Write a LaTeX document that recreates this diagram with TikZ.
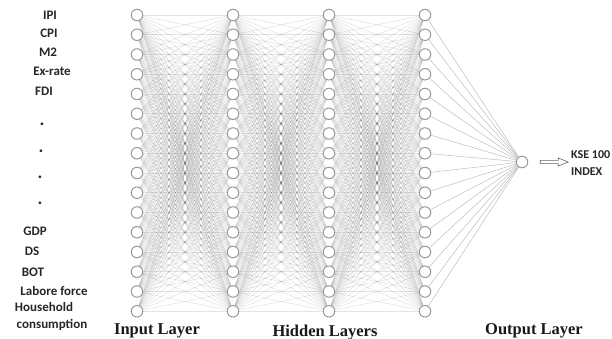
\documentclass[tikz,border=0pt]{standalone}
\usepackage{fontspec}
\setmainfont{Liberation Serif}
\newfontfamily\labelfont{Carlito}
\usetikzlibrary{calc,backgrounds}

\begin{document}
\begin{tikzpicture}[x=1pt,y=-1pt,
  neuron/.style={circle, draw=black!40, fill=white, line width=1pt,
                 minimum size=11.5pt, inner sep=0pt},
  synapse/.style={draw=black, opacity=0.11, line width=0.55pt},
  outlink/.style={draw=black!28, line width=0.45pt},
  varlabel/.style={font=\labelfont\bfseries\fontsize{13}{15}\selectfont,
                   text=black!85, inner sep=0pt, anchor=mid},
  dotlabel/.style={font=\labelfont\bfseries\fontsize{18}{18}\selectfont,
                   text=black!85, inner sep=0pt, anchor=mid},
  layertitle/.style={font=\bfseries\fontsize{16.5}{18}\selectfont,
                     text=black!90, inner sep=0pt, anchor=base},
  blockarrow/.style={draw=black!60, fill=white, line width=0.6pt, line join=miter}]
\useasboundingbox (0,0) rectangle (612,339);

% four fully connected layers of 16 neurons
\foreach \l/\x in {1/137,2/233,3/329,4/425}
  \foreach \i in {1,...,16}
    \node[neuron] (n\l-\i) at (\x, {15+(\i-1)*19.75}) {};

% single output neuron
\node[neuron] (out) at (522,162) {};

% connections between consecutive layers
\begin{scope}[on background layer]
  \foreach \a/\b in {1/2,2/3,3/4}
    \foreach \i in {1,...,16}
      \foreach \j in {1,...,16}
        \draw[synapse] (n\a-\i) -- (n\b-\j);
  \foreach \i in {1,...,16}
    \draw[outlink] (n4-\i) -- (out);
\end{scope}

% input variable names
\node[varlabel] (v1) at (50,17) {IPI};
\node[varlabel] (v2) at (49,35) {CPI};
\node[varlabel] (v3) at (48,54) {M2};
\node[varlabel] (v4) at (52,73) {Ex-rate};
\node[varlabel] (v5) at (44,93) {FDI};
\node[dotlabel] (d1) at (42,123) {.};
\node[dotlabel] (d2) at (41,150) {.};
\node[dotlabel] (d3) at (40,176) {.};
\node[dotlabel] (d4) at (40,202) {.};
\node[varlabel] (v6) at (35,233) {GDP};
\node[varlabel] (v7) at (32,253) {DS};
\node[varlabel] (v8) at (33,274) {BOT};
\node[varlabel] (v9) at (54,293) {Labore force};
\node[varlabel] (v10) at (44,309) {Household};
\node[varlabel] (v11) at (52,326) {consumption};

% prediction target
\node[font=\labelfont\bfseries\fontsize{12}{17}\selectfont, text=black!85,
      inner sep=0pt, align=left, anchor=west] (kse) at (571,163) {KSE 100\\INDEX};

% hollow block arrow from the output neuron to the target
\draw[blockarrow] ($(out.east)+(12,-1.6)$) -- ++(18,0) -- ++(0,-2.4) -- ++(10,4)
  -- ++(-10,4) -- ++(0,-2.4) -- ++(-18,0) -- cycle;

% layer titles
\node[layertitle] (tin) at (157,334) {Input Layer};
\node[layertitle] (thid) at (325,336) {Hidden Layers};
\node[layertitle] (tout) at (534,334) {Output Layer};
\end{tikzpicture}
\end{document}
